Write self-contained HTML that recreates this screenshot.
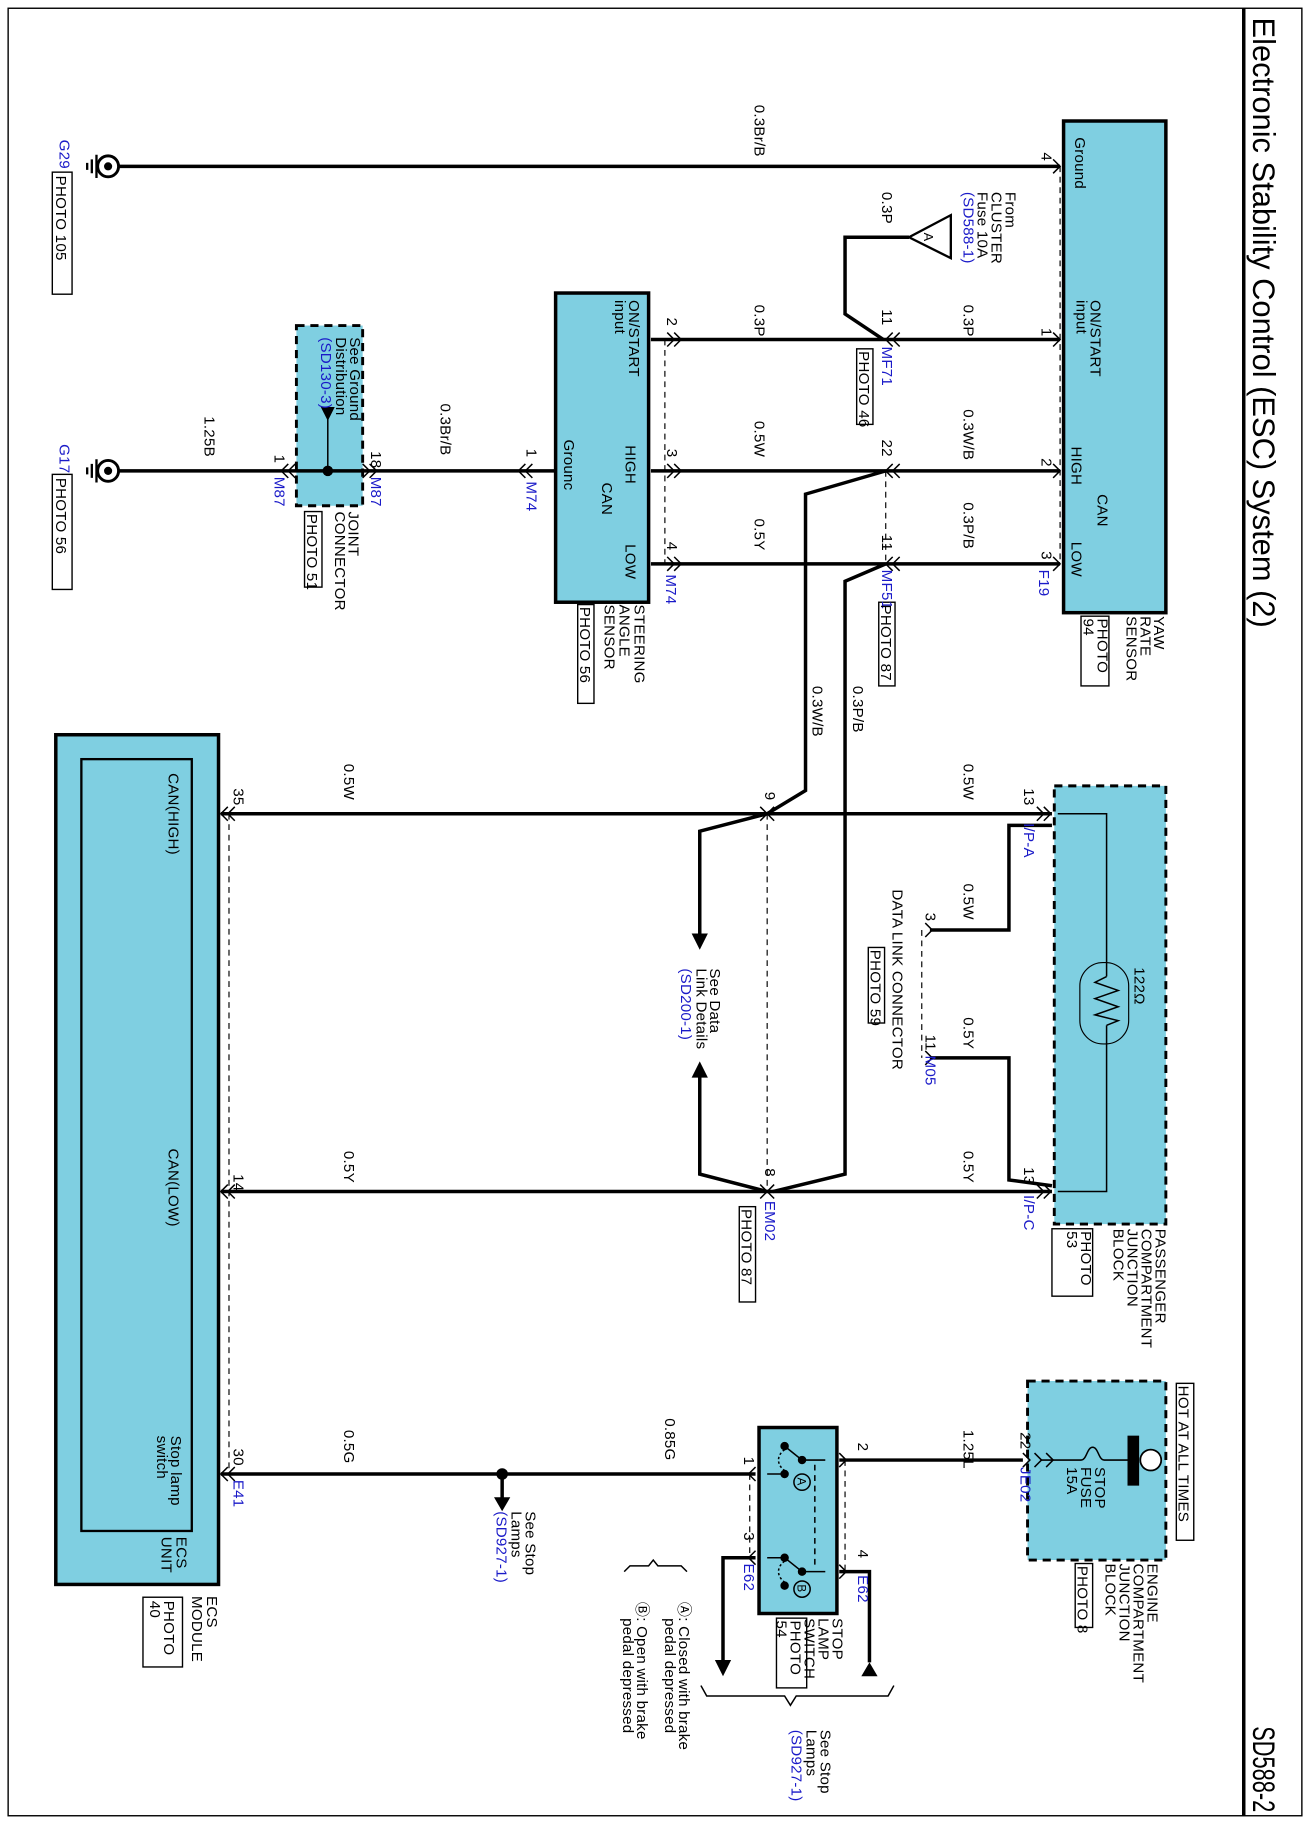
<!DOCTYPE html>
<html><head><meta charset="utf-8"><style>
html,body{margin:0;padding:0;background:#fff;}
svg{display:block;}
text{font-family:"Liberation Sans",Arial,sans-serif;font-size:13px;letter-spacing:0.2px;fill:#000;}
.b{fill:#1a1ac8;}
.t{font-size:27px;letter-spacing:0;}
.w{stroke:#000;stroke-width:3;fill:none;}
.th{stroke:#000;stroke-width:1.3;fill:none;}
.d{stroke:#000;stroke-width:1;stroke-dasharray:5,4;fill:none;}
.box{fill:#7fcfe1;stroke:#000;stroke-width:3;}
.dbox{fill:#7fcfe1;stroke:#000;stroke-width:2.5;stroke-dasharray:7,5;}
.pb{fill:none;stroke:#000;stroke-width:1.2;}
</style></head><body>
<svg width="1310" height="1824" viewBox="0 0 1127 1569" xmlns="http://www.w3.org/2000/svg">
<rect x="7" y="7" width="1113" height="1555" fill="none" stroke="#000" stroke-width="1.2"/>
<line x1="1070" y1="7" x2="1070" y2="1562" stroke="#000" stroke-width="3"/>
<text class="t" transform="translate(1078,15) rotate(90)" textLength="525" lengthAdjust="spacingAndGlyphs">Electronic Stability Control (ESC) System (2)</text>
<text class="t" transform="translate(1078,1485) rotate(90)" textLength="74" lengthAdjust="spacingAndGlyphs">SD588-2</text>

<!-- boxes -->
<rect class="box" x="915" y="104" width="88" height="423"/>
<rect class="box" x="478" y="252" width="80" height="266"/>
<rect class="dbox" x="255" y="280" width="57" height="155"/>
<rect class="dbox" x="907" y="676" width="96" height="377"/>
<rect class="box" x="48" y="632" width="140" height="731"/>
<rect x="70" y="653" width="95" height="664" fill="none" stroke="#000" stroke-width="2"/>
<rect class="dbox" x="884" y="1188" width="119" height="154"/>
<rect class="box" x="653" y="1228" width="67" height="160"/>

<!-- wires -->
<path class="w" d="M100 143H912"/>
<path class="w" d="M560 292H912"/>
<path class="w" d="M782 204H727V270L760 292"/>
<polygon points="818,185 818,222 782,204" fill="#fff" stroke="#000" stroke-width="2"/>
<text transform="translate(795,200) rotate(90)" style="font-size:11px">A</text>
<path class="w" d="M560 405H912"/>
<path class="w" d="M100 405H478"/>
<path class="w" d="M560 485H912"/>
<path class="w" d="M762 405L693 425V680L660 700"/>
<path class="w" d="M762 485L727 500V1010L665 1025"/>
<path class="w" d="M190 700H905"/>
<path class="w" d="M190 1025H905"/>
<path class="w" d="M660 700L602 715V805"/>
<polygon points="595,803 609,803 602,817"/>
<path class="w" d="M660 1025L602 1010V925"/>
<polygon points="595,927 609,927 602,913"/>
<path class="w" d="M905 710H868V800H800"/>
<path class="w" d="M800 910H868V1015L905 1020"/>
<path class="d" d="M793 800V910"/>
<path class="w" d="M190 1268H650"/>
<circle cx="432" cy="1268" r="5"/>
<path class="w" d="M432 1268V1290"/>
<polygon points="425,1288 439,1288 432,1300"/>
<path class="w" d="M722 1256H880"/>
<path class="w" d="M722 1352H748V1430"/>
<polygon points="741,1442 755,1442 748,1430"/>
<path class="w" d="M650 1340H622V1430"/>
<polygon points="615,1428 629,1428 622,1442"/>

<!-- dashed connector lines -->
<path class="d" d="M912 143V485"/>
<path class="d" d="M572 292V485"/>
<path class="d" d="M762 405V485"/>
<path class="d" d="M660 700V1025"/>
<path class="d" d="M197 700V1268"/>
<path class="d" d="M645 1268V1340"/>
<path class="d" d="M727 1256V1352"/>

<!-- connector chevrons -->
<g class="th">
<path d="M906 137L912 143L906 149"/><path d="M906 286L912 292L906 298"/><path d="M906 399L912 405L906 411"/><path d="M906 479L912 485L906 491"/>
<path d="M768 286L762 292L768 298M774 286L768 292L774 298"/>
<path d="M768 399L762 405L768 411M774 399L768 405L774 411"/>
<path d="M768 479L762 485L768 491M774 479L768 485L774 491"/>
<path d="M580 286L586 292L580 298M574 286L580 292L574 298"/>
<path d="M580 399L586 405L580 411M574 399L580 405L574 411"/>
<path d="M580 479L586 485L580 491M574 479L580 485L574 491"/>
<path d="M452 399L446 405L452 411M458 399L452 405L458 411"/>
<path d="M318 399L324 405L318 411M312 399L318 405L312 411"/>
<path d="M248 399L242 405L248 411M254 399L248 405L254 411"/>
<path d="M898 694L904 700L898 706M892 694L898 700L892 706"/>
<path d="M898 1019L904 1025L898 1031M892 1019L898 1025L892 1031"/>
<path d="M654 694L660 700L654 706M666 694L660 700L666 706"/>
<path d="M654 1019L660 1025L654 1031M666 1019L660 1025L666 1031"/>
<path d="M796 794L802 800L796 806"/><path d="M796 904L802 910L796 916"/>
<path d="M196 694L190 700L196 706M202 694L196 700L202 706"/>
<path d="M196 1019L190 1025L196 1031M202 1019L196 1025L202 1031"/>
<path d="M196 1262L190 1268L196 1274M202 1262L196 1268L202 1274"/>
<path d="M880 1250L886 1256L880 1262M890 1250L896 1256L890 1262M900 1250L906 1256L900 1262"/>
<path d="M722 1250L728 1256L722 1262M722 1346L728 1352L722 1358"/>
<path d="M650 1262L644 1268L650 1274M650 1334L644 1340L650 1346"/>
</g>
<!-- joint connector internal -->
<path class="th" d="M248 405H318"/><circle cx="282" cy="405" r="4.5"/>
<path class="th" d="M282 405V355"/><polygon points="276,350 288,350 282,362"/>
<!-- ground symbols -->
<g>
<circle cx="93" cy="143" r="9" fill="#fff" stroke="#000" stroke-width="2.5"/><circle cx="93" cy="143" r="3.5"/>
<path d="M83 133V153M79 137V149M75 140V146" stroke="#000" stroke-width="2"/>
<circle cx="93" cy="405" r="9" fill="#fff" stroke="#000" stroke-width="2.5"/><circle cx="93" cy="405" r="3.5"/>
<path d="M83 395V415M79 399V411M75 402V408" stroke="#000" stroke-width="2"/>
</g>
<!-- resistor -->
<path class="th" d="M910 700H952V840M952 882V1025H910"/>
<rect x="929" y="828" width="42" height="70" rx="20" fill="none" stroke="#000" stroke-width="1"/>
<path class="th" d="M952 840L942 845L962 852L942 859L962 866L942 873L962 878L952 882"/>
<!-- fuse -->
<rect x="970" y="1235" width="10" height="43"/>
<circle cx="990" cy="1256" r="9" fill="#fff" stroke="#000" stroke-width="1.5"/>
<path class="th" d="M970 1256H950C945 1256 945 1245 940 1245C935 1245 935 1256 930 1256H896"/>
<!-- switch -->
<g class="th">
<path d="M710 1256H690L675 1244M675 1268H660"/><circle cx="690" cy="1256" r="3" fill="#000"/><circle cx="675" cy="1244" r="3" fill="#000"/><circle cx="675" cy="1268" r="3" fill="#000"/>
<path d="M710 1352H690L675 1340"/><circle cx="690" cy="1352" r="3" fill="#000"/><circle cx="675" cy="1340" r="3" fill="#000"/><circle cx="675" cy="1364" r="3" fill="#000"/>
<path d="M660 1340H675"/>
<path d="M675 1247C668 1252 668 1260 675 1265M675 1343C668 1348 668 1356 675 1361" stroke-dasharray="2,2"/>
<circle cx="690" cy="1275" r="7"/><circle cx="690" cy="1367" r="7"/>
<path d="M701 1260V1350" stroke-dasharray="5,4"/>
</g>
<text transform="translate(686,1271) rotate(90)" style="font-size:10px;letter-spacing:0">A</text>
<text transform="translate(686,1363) rotate(90)" style="font-size:10px;letter-spacing:0">B</text>

<!-- photo boxes -->
<rect class="pb" x="45" y="148" width="17" height="105"/>
<rect class="pb" x="45" y="408" width="17" height="99"/>
<rect class="pb" x="262" y="440" width="15" height="65"/>
<rect class="pb" x="497" y="520" width="14" height="85"/>
<rect class="pb" x="737" y="300" width="14" height="65"/>
<rect class="pb" x="756" y="518" width="14" height="72"/>
<rect class="pb" x="930" y="530" width="24" height="60"/>
<rect class="pb" x="747" y="815" width="14" height="65"/>
<rect class="pb" x="636" y="1038" width="14" height="82"/>
<rect class="pb" x="905" y="1057" width="35" height="58"/>
<rect class="pb" x="1012" y="1190" width="15" height="135"/>
<rect class="pb" x="925" y="1345" width="15" height="55"/>
<rect class="pb" x="123" y="1374" width="34" height="60"/>
<rect class="pb" x="668" y="1392" width="26" height="60"/>

<!-- labels -->
<g>
<text transform="translate(649,90) rotate(90)">0.3Br/B</text>
<text transform="translate(925,118) rotate(90)">Ground</text>
<text transform="translate(938,258) rotate(90)">ON/START</text>
<text transform="translate(926,258) rotate(90)">input</text>
<text transform="translate(922,384) rotate(90)">HIGH</text>
<text transform="translate(944,425) rotate(90)">CAN</text>
<text transform="translate(922,466) rotate(90)">LOW</text>
<text transform="translate(993,530) rotate(90)">YAW</text>
<text transform="translate(981,530) rotate(90)">RATE</text>
<text transform="translate(969,530) rotate(90)">SENSOR</text>
<text transform="translate(944,532) rotate(90)">PHOTO</text>
<text transform="translate(932,532) rotate(90)">94</text>
<text transform="translate(896,131) rotate(90)">4</text>
<text transform="translate(896,282) rotate(90)">1</text>
<text transform="translate(896,394) rotate(90)">2</text>
<text transform="translate(896,474) rotate(90)">3</text>
<text class="b" transform="translate(894,490) rotate(90)">F19</text>
<text transform="translate(829,262) rotate(90)">0.3P</text>
<text transform="translate(829,352) rotate(90)">0.3W/B</text>
<text transform="translate(829,432) rotate(90)">0.3P/B</text>
<text transform="translate(649,262) rotate(90)">0.3P</text>
<text transform="translate(649,362) rotate(90)">0.5W</text>
<text transform="translate(649,446) rotate(90)">0.5Y</text>
<text transform="translate(759,165) rotate(90)">0.3P</text>
<text transform="translate(865,165) rotate(90)">From</text>
<text transform="translate(853,165) rotate(90)">CLUSTER</text>
<text transform="translate(841,165) rotate(90)">Fuse 10A</text>
<text class="b" transform="translate(829,165) rotate(90)">(SD588-1)</text>
<text transform="translate(759,266) rotate(90)">11</text>
<text class="b" transform="translate(759,298) rotate(90)">MF71</text>
<text transform="translate(739,302) rotate(90)">PHOTO 46</text>
<text transform="translate(759,378) rotate(90)">22</text>
<text transform="translate(759,460) rotate(90)">11</text>
<text class="b" transform="translate(759,490) rotate(90)">MF51</text>
<text transform="translate(758,520) rotate(90)">PHOTO 87</text>
<text transform="translate(541,258) rotate(90)">ON/START</text>
<text transform="translate(529,258) rotate(90)">input</text>
<text transform="translate(538,383) rotate(90)">HIGH</text>
<text transform="translate(518,415) rotate(90)">CAN</text>
<text transform="translate(538,468) rotate(90)">LOW</text>
<text transform="translate(485,378) rotate(90)">Grounc</text>
<text transform="translate(574,273) rotate(90)">2</text>
<text transform="translate(574,386) rotate(90)">3</text>
<text transform="translate(574,466) rotate(90)">4</text>
<text transform="translate(453,386) rotate(90)">1</text>
<text class="b" transform="translate(573,494) rotate(90)">M74</text>
<text class="b" transform="translate(453,414) rotate(90)">M74</text>
<text transform="translate(546,520) rotate(90)">STEERING</text>
<text transform="translate(533,520) rotate(90)">ANGLE</text>
<text transform="translate(520,520) rotate(90)">SENSOR</text>
<text transform="translate(499,522) rotate(90)">PHOTO 56</text>
<text transform="translate(379,347) rotate(90)">0.3Br/B</text>
<text transform="translate(176,358) rotate(90)">1.25B</text>
<text transform="translate(301,290) rotate(90)">See Ground</text>
<text transform="translate(289,290) rotate(90)">Distribution</text>
<text class="b" transform="translate(276,290) rotate(90)">(SD130-3)</text>
<text transform="translate(319,388) rotate(90)">18</text>
<text class="b" transform="translate(319,410) rotate(90)">M87</text>
<text transform="translate(236,391) rotate(90)">1</text>
<text class="b" transform="translate(236,410) rotate(90)">M87</text>
<text transform="translate(300,440) rotate(90)">JOINT</text>
<text transform="translate(288,440) rotate(90)">CONNECTOR</text>
<text transform="translate(264,442) rotate(90)">PHOTO 51</text>
<text class="b" transform="translate(51,120) rotate(90)">G29</text>
<text transform="translate(48,151) rotate(90)">PHOTO 105</text>
<text class="b" transform="translate(51,382) rotate(90)">G17</text>
<text transform="translate(48,411) rotate(90)">PHOTO 56</text>

<text transform="translate(699,590) rotate(90)">0.3W/B</text>
<text transform="translate(734,590) rotate(90)">0.3P/B</text>
<text transform="translate(829,657) rotate(90)">0.5W</text>
<text transform="translate(296,657) rotate(90)">0.5W</text>
<text transform="translate(881,678) rotate(90)">13</text>
<text class="b" transform="translate(881,708) rotate(90)">I/P-A</text>
<text transform="translate(658,681) rotate(90)">9</text>
<text transform="translate(201,678) rotate(90)">35</text>
<text transform="translate(145,665) rotate(90)">CAN(HIGH)</text>
<text transform="translate(829,760) rotate(90)">0.5W</text>
<text transform="translate(796,785) rotate(90)">3</text>
<text transform="translate(768,765) rotate(90)">DATA LINK CONNECTOR</text>
<text transform="translate(749,817) rotate(90)">PHOTO 59</text>
<text transform="translate(796,890) rotate(90)">11</text>
<text class="b" transform="translate(796,908) rotate(90)">M05</text>
<text transform="translate(829,875) rotate(90)">0.5Y</text>
<text transform="translate(976,832) rotate(90)">122Ω</text>
<text transform="translate(611,833) rotate(90)">See Data</text>
<text transform="translate(599,833) rotate(90)">Link Details</text>
<text class="b" transform="translate(586,833) rotate(90)">(SD200-1)</text>
<text transform="translate(829,990) rotate(90)">0.5Y</text>
<text transform="translate(296,990) rotate(90)">0.5Y</text>
<text transform="translate(881,1004) rotate(90)">13</text>
<text class="b" transform="translate(881,1028) rotate(90)">I/P-C</text>
<text transform="translate(658,1005) rotate(90)">8</text>
<text class="b" transform="translate(658,1033) rotate(90)">EM02</text>
<text transform="translate(638,1040) rotate(90)">PHOTO 87</text>
<text transform="translate(201,1010) rotate(90)">14</text>
<text transform="translate(145,988) rotate(90)">CAN(LOW)</text>
<text transform="translate(994,1057) rotate(90)">PASSENGER</text>
<text transform="translate(982,1057) rotate(90)">COMPARTMENT</text>
<text transform="translate(970,1057) rotate(90)">JUNCTION</text>
<text transform="translate(958,1057) rotate(90)">BLOCK</text>
<text transform="translate(930,1059) rotate(90)">PHOTO</text>
<text transform="translate(918,1059) rotate(90)">53</text>

<text transform="translate(1014,1192) rotate(90)">HOT AT ALL TIMES</text>
<text transform="translate(942,1262) rotate(90)">STOP</text>
<text transform="translate(930,1262) rotate(90)">FUSE</text>
<text transform="translate(918,1262) rotate(90)">15A</text>
<text transform="translate(987,1345) rotate(90)">ENGINE</text>
<text transform="translate(975,1345) rotate(90)">COMPARTMENT</text>
<text transform="translate(963,1345) rotate(90)">JUNCTION</text>
<text transform="translate(951,1345) rotate(90)">BLOCK</text>
<text transform="translate(927,1347) rotate(90)">PHOTO 8</text>
<text transform="translate(829,1230) rotate(90)">1.25L</text>
<text transform="translate(878,1232) rotate(90)">22</text>
<text class="b" transform="translate(878,1262) rotate(90)">JE02</text>
<text transform="translate(738,1241) rotate(90)">2</text>
<text transform="translate(640,1253) rotate(90)">1</text>
<text transform="translate(640,1318) rotate(90)">3</text>
<text transform="translate(738,1333) rotate(90)">4</text>
<text class="b" transform="translate(738,1355) rotate(90)">E62</text>
<text class="b" transform="translate(640,1345) rotate(90)">E62</text>
<text transform="translate(572,1220) rotate(90)">0.85G</text>
<text transform="translate(296,1230) rotate(90)">0.5G</text>
<text transform="translate(201,1246) rotate(90)">30</text>
<text class="b" transform="translate(201,1273) rotate(90)">E41</text>
<text transform="translate(147,1235) rotate(90)">Stop lamp</text>
<text transform="translate(135,1235) rotate(90)">switch</text>
<text transform="translate(152,1322) rotate(90)">ECS</text>
<text transform="translate(139,1322) rotate(90)">UNIT</text>
<text transform="translate(178,1373) rotate(90)">ECS</text>
<text transform="translate(165,1373) rotate(90)">MODULE</text>
<text transform="translate(141,1377) rotate(90)">PHOTO</text>
<text transform="translate(129,1377) rotate(90)">40</text>
<text transform="translate(452,1300) rotate(90)">See Stop</text>
<text transform="translate(440,1300) rotate(90)">Lamps</text>
<text class="b" transform="translate(427,1300) rotate(90)">(SD927-1)</text>
<text transform="translate(716,1392) rotate(90)">STOP</text>
<text transform="translate(704,1392) rotate(90)">LAMP</text>
<text transform="translate(692,1392) rotate(90)">SWITCH</text>
<text transform="translate(680,1394) rotate(90)">PHOTO</text>
<text transform="translate(668,1394) rotate(90)">54</text>
<text transform="translate(584,1378) rotate(90)">Ⓐ: Closed with brake</text>
<text transform="translate(572,1392) rotate(90)">pedal depressed</text>
<text transform="translate(548,1378) rotate(90)">Ⓑ: Open with brake</text>
<text transform="translate(536,1392) rotate(90)">pedal depressed</text>
<text transform="translate(706,1488) rotate(90)">See Stop</text>
<text transform="translate(694,1488) rotate(90)">Lamps</text>
<text class="b" transform="translate(681,1488) rotate(90)">(SD927-1)</text>
</g>
<path class="th" d="M537 1352L542 1347H558L562 1342L566 1347H586L591 1352"/>
<path class="th" d="M603 1450L608 1459H675L680 1467L685 1459H764L769 1450"/>
</svg>
</body></html>
